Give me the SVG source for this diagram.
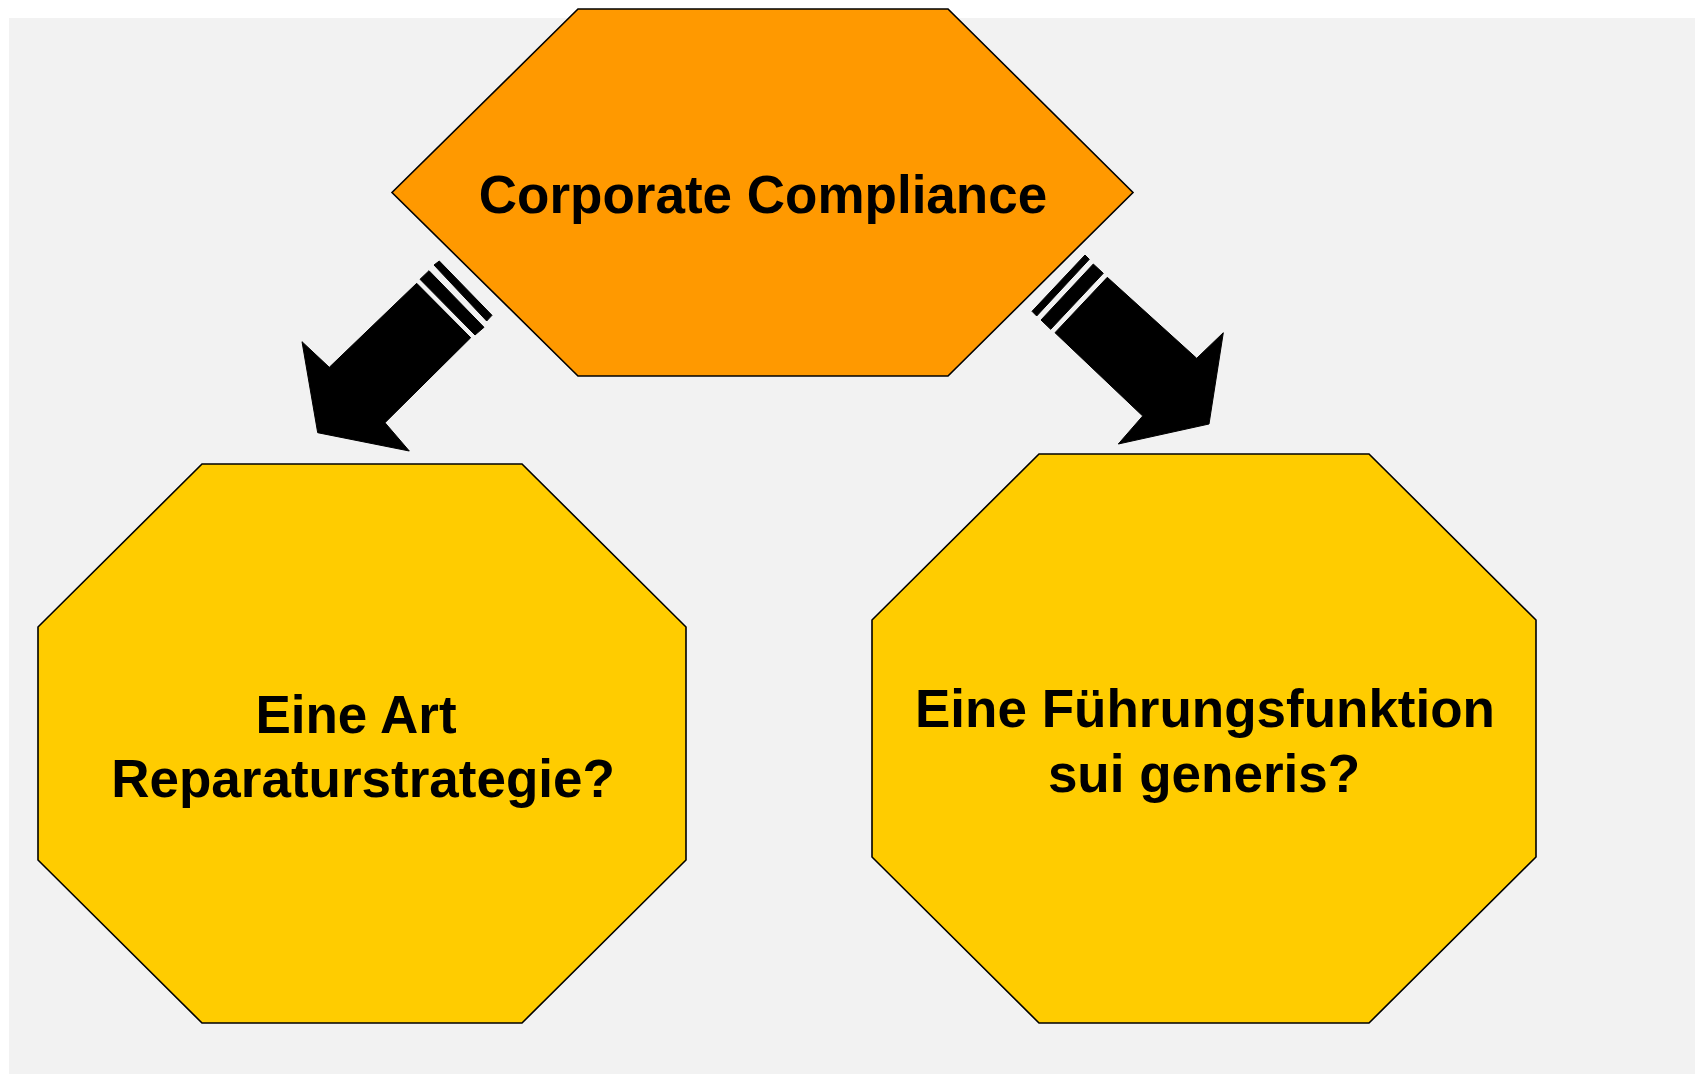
<svg xmlns="http://www.w3.org/2000/svg" width="1695" height="1074" viewBox="0 0 1695 1074">
<style>
.node{stroke:#000;stroke-width:1.6;stroke-linejoin:miter}
.top{fill:#FF9900}
.oct{fill:#FFCC00}
.lbl{font-family:"Liberation Sans",Arial,sans-serif;font-weight:bold;font-size:53px;fill:#000;text-anchor:middle}
.arr{fill:#000;stroke:#000;stroke-width:1;stroke-linejoin:round}
</style>
<rect x="9" y="18" width="1686" height="1056" fill="#F2F2F2"/>
<g id="connectors">
<g id="arrow-left">
<polygon class="arr" points="416.7,283.3 329.3,367.3 302,341.7 317.7,432.7 409.3,451 385,422.7 470.7,337.7"/>
<polygon class="arr" points="420,279.3 429,270.7 484,327.3 475,335"/>
<polygon class="arr" points="434,265 439.3,261 492,315.3 486.7,321"/>
</g>
<g id="arrow-right">
<polygon class="arr" points="1055,332.7 1107.3,277.3 1196.7,358.3 1223.3,332.7 1209,424 1118.3,444 1142.7,416"/>
<polygon class="arr" points="1041,320 1093.3,264 1103.3,273.3 1050.7,329.3"/>
<polygon class="arr" points="1032,311.3 1085,255 1089.3,259.3 1036.7,316"/>
</g>
</g>
<g id="node-corporate-compliance">
<polygon class="node top" points="578,9 948,9 1133,192.5 948,376 578,376 392,192.5"/>
<text class="lbl" x="763" y="213">Corporate Compliance</text>
</g>
<g id="node-reparaturstrategie">
<polygon class="node oct" points="202,464 522,464 686,627 686,860 522,1023 202,1023 38,860 38,627"/>
<text class="lbl" x="356" y="733">Eine Art</text>
<text class="lbl" x="363" y="797">Reparaturstrategie?</text>
</g>
<g id="node-fuehrungsfunktion">
<polygon class="node oct" points="1039,454 1369,454 1536,620 1536,857 1369,1023 1039,1023 872,857 872,620"/>
<text class="lbl" x="1205" y="727">Eine Führungsfunktion</text>
<text class="lbl" x="1204" y="792">sui generis?</text>
</g>
</svg>
